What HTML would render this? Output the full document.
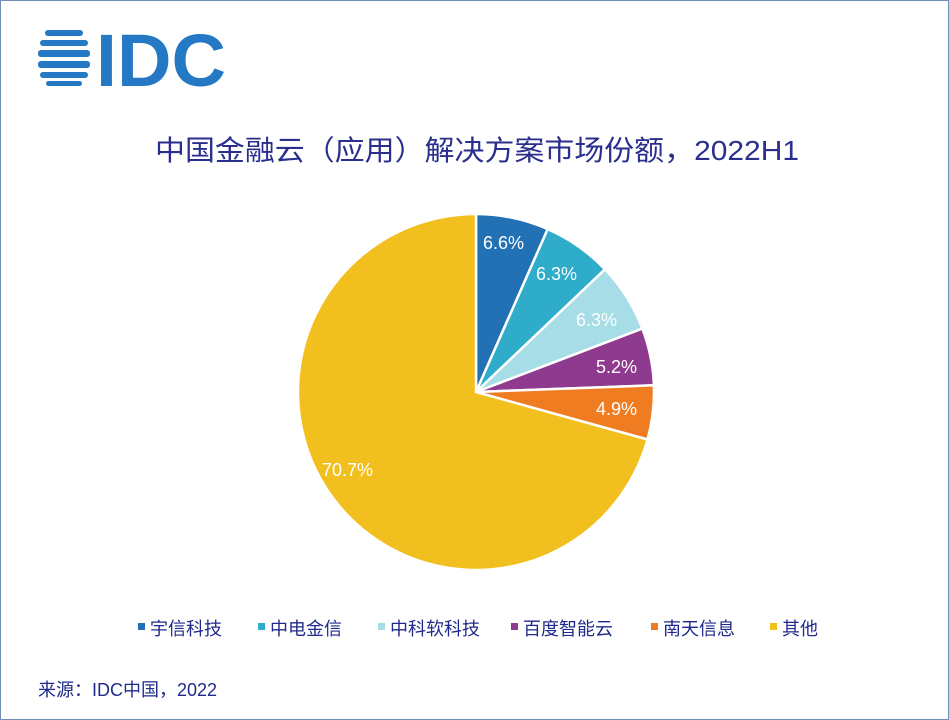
<!DOCTYPE html>
<html><head><meta charset="utf-8"><style>
body{margin:0;width:949px;height:720px;background:#fff;overflow:hidden;font-family:"Liberation Sans","Noto Sans CJK SC",sans-serif}
.frame{position:absolute;left:0;top:0;width:947px;height:718px;border:1px solid #6d8fb5}
</style></head><body><div class="frame"></div>
<svg width="949" height="720" style="position:absolute;left:0;top:0" font-family="Liberation Sans, Noto Sans CJK SC, sans-serif">
<g fill="#2478c4">
<rect x="45" y="30" width="38" height="6" rx="3"/>
<rect x="40" y="40" width="48" height="6" rx="3"/>
<rect x="38" y="50" width="52" height="7" rx="3"/>
<rect x="38" y="61" width="52" height="7" rx="3"/>
<rect x="40" y="72" width="48" height="6" rx="3"/>
<rect x="46" y="81" width="36" height="5" rx="2.5"/>
</g>
<text x="96" y="86" font-size="74" font-weight="bold" fill="#2478c4" textLength="130" lengthAdjust="spacingAndGlyphs">IDC</text>
<text x="477" y="160" text-anchor="middle" font-size="28" fill="#2a2f8e" textLength="644" lengthAdjust="spacingAndGlyphs">中国金融云（应用）解决方案市场份额，2022H1</text>
<g stroke="#fff" stroke-width="2.5" stroke-linejoin="round">
<path d="M476,392 L476,214 A178,178 0 0 1 547.7,229.1Z" fill="#2371b5"/>
<path d="M476,392 L547.7,229.1 A178,178 0 0 1 605,269.3Z" fill="#2eacc9"/>
<path d="M476,392 L605,269.3 A178,178 0 0 1 642.3,328.6Z" fill="#a6dde6"/>
<path d="M476,392 L642.3,328.6 A178,178 0 0 1 653.9,385.3Z" fill="#8e3a8e"/>
<path d="M476,392 L653.9,385.3 A178,178 0 0 1 647.5,439.5Z" fill="#f07c22"/>
<path d="M476,392 L647.5,439.5 A178,178 0 1 1 476,214Z" fill="#f2c01e"/>
</g>
<g fill="#fff" font-size="18">
<text x="483" y="249">6.6%</text>
<text x="536" y="280">6.3%</text>
<text x="576" y="326">6.3%</text>
<text x="596" y="373">5.2%</text>
<text x="596" y="415">4.9%</text>
<text x="322" y="476">70.7%</text>
</g>
<g font-size="18" fill="#1f2a8c">
<rect x="138" y="623" width="7" height="7" fill="#2371b5"/><text x="150" y="635">宇信科技</text>
<rect x="258" y="623" width="7" height="7" fill="#2eacc9"/><text x="270" y="635">中电金信</text>
<rect x="378" y="623" width="7" height="7" fill="#a6dde6"/><text x="390" y="635">中科软科技</text>
<rect x="511" y="623" width="7" height="7" fill="#8e3a8e"/><text x="523" y="635">百度智能云</text>
<rect x="651" y="623" width="7" height="7" fill="#f07c22"/><text x="663" y="635">南天信息</text>
<rect x="770" y="623" width="7" height="7" fill="#f2c01e"/><text x="782" y="635">其他</text>
<text x="38" y="696">来源：IDC中国，2022</text>
</g>
</svg></body></html>
